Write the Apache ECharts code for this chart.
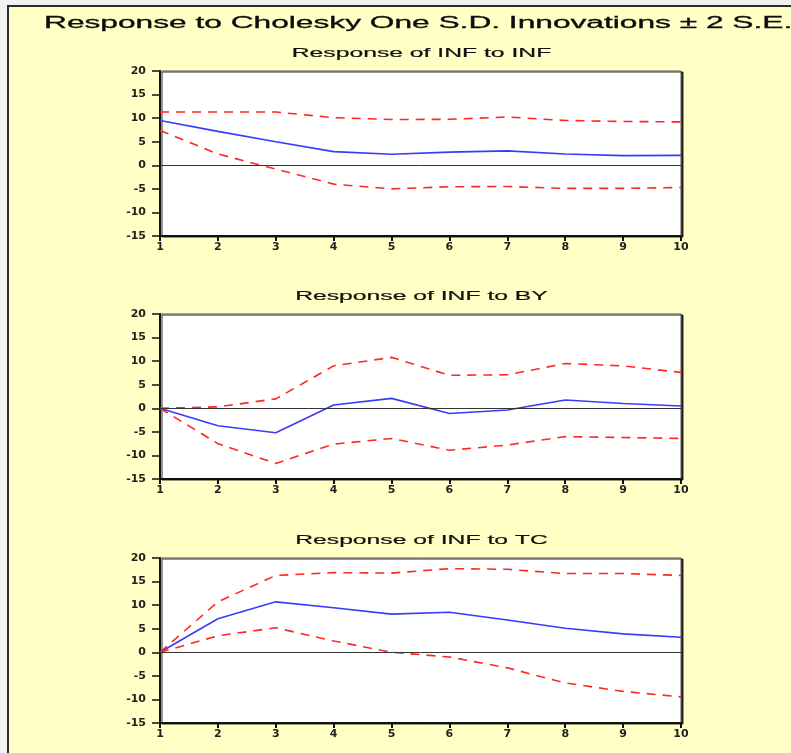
<!DOCTYPE html>
<html>
<head>
<meta charset="utf-8">
<script src="https://cdn.jsdelivr.net/npm/echarts@6/dist/echarts.min.js"></script>
<style>
  html, body { margin: 0; padding: 0; background: #f2f2f2; }
  #irfChart { width: 791px; height: 753px; }
</style>
</head>
<body>
<div id="irfChart"></div>
<script>
// periods after the shock
const periods = [1, 2, 3, 4, 5, 6, 7, 8, 9, 10];
const yTicks = [-15, -10, -5, 0, 5, 10, 15, 20];

// Response of INF to INF
const infToInf = [9.5, 7.2, 5.0, 2.9, 2.35, 2.8, 3.05, 2.4, 2.05, 2.1];
const infToInfUpper = [11.3, 11.3, 11.3, 10.1, 9.7, 9.75, 10.25, 9.5, 9.3, 9.2];
const infToInfLower = [7.4, 2.4, -0.8, -4.0, -5.0, -4.55, -4.5, -4.9, -4.9, -4.7];

// Response of INF to BY
const infToBy = [0, -3.7, -5.2, 0.7, 2.1, -1.1, -0.35, 1.75, 1.0, 0.5];
const infToByUpper = [0, 0.3, 2.0, 9.0, 10.8, 7.0, 7.1, 9.5, 9.0, 7.6];
const infToByLower = [0, -7.5, -11.7, -7.6, -6.4, -8.9, -7.8, -6.0, -6.2, -6.4];

// Response of INF to TC
const infToTc = [0, 7.1, 10.7, 9.45, 8.1, 8.5, 6.85, 5.1, 3.9, 3.2];
const infToTcUpper = [0, 10.7, 16.3, 16.9, 16.8, 17.75, 17.6, 16.7, 16.7, 16.3];
const infToTcLower = [0, 3.5, 5.2, 2.4, 0, -1.0, -3.3, -6.5, -8.3, -9.45];

const mainTitle = 'Response to Cholesky One S.D. Innovations \u00b1 2 S.E.';
const panelTitles = ['Response of INF to INF', 'Response of INF to BY', 'Response of INF to TC'];
const panelData = [
    [infToInf, infToInfUpper, infToInfLower],
    [infToBy, infToByUpper, infToByLower],
    [infToTc, infToTcUpper, infToTcLower]
];

const gridTops = [71, 314, 558];
const plotLeft = 160, plotWidth = 521, plotHeight = 165;

const irfChart = echarts.init(document.getElementById('irfChart'));

function pairs(values) {
    return periods.map((p, i) => [p, values[i]]);
}

function buildGraphics() {
    let items = [{
        // yellow frame behind everything
        type: 'rect', z: -10,
        shape: { x: 8, y: 6, width: 820, height: 780 },
        style: { fill: '#FFFFC6', stroke: '#2b2b2b', lineWidth: 2 }
    }, {
        type: 'text', x: 44, y: 24, scaleX: 1.98,
        style: {
            text: mainTitle, font: '16px "Liberation Sans", Arial, sans-serif',
            fill: '#0c0c0c', textAlign: 'left', textVerticalAlign: 'middle',
            stroke: '#0c0c0c', lineWidth: 0.3
        }
    }];
    panelTitles.forEach((t, i) => {
        items.push({
            type: 'text', x: plotLeft + plotWidth / 2 + 1, y: gridTops[i] - 18, scaleX: 1.9,
            style: {
                text: t, font: '13px "Liberation Sans", Arial, sans-serif',
                fill: '#111', textAlign: 'center', textVerticalAlign: 'middle',
                stroke: '#111', lineWidth: 0.2
            }
        });
    });
    return items;
}

function buildOption() {
    const grid = [], xAxis = [], yAxis = [], series = [];
    gridTops.forEach((top, i) => {
        grid.push({
            left: plotLeft, top: top, width: plotWidth, height: plotHeight,
            show: true, backgroundColor: '#ffffff',
            borderColor: '#555555', borderWidth: 1,
            shadowColor: 'rgba(20,20,20,0.9)', shadowOffsetX: 2, shadowOffsetY: 1
        });
        xAxis.push({
            type: 'value', gridIndex: i, min: 1, max: 10, interval: 1,
            axisLine: { show: true, onZero: false, lineStyle: { color: '#111', width: 2 } },
            axisTick: { show: true, length: 5, lineStyle: { color: '#111', width: 2 } },
            axisLabel: {
                margin: 6, color: '#222', fontSize: 11, fontWeight: 'bold',
                fontFamily: '"DejaVu Sans", sans-serif'
            },
            splitLine: { show: false }
        });
        yAxis.push({
            type: 'value', gridIndex: i,
            min: yTicks[0], max: yTicks[yTicks.length - 1], interval: 5,
            axisLine: { show: true, lineStyle: { color: '#111', width: 2 } },
            axisTick: { show: true, length: 8, lineStyle: { color: '#111', width: 1.5 } },
            axisLabel: {
                margin: 14, color: '#222', fontSize: 11, fontWeight: 'bold',
                fontFamily: '"DejaVu Sans", sans-serif'
            },
            splitLine: { show: false }
        });

        const [mid, up, low] = panelData[i];
        series.push({
            type: 'line', xAxisIndex: i, yAxisIndex: i, data: pairs(mid),
            symbol: 'none', z: 3,
            lineStyle: { color: '#3a3aff', width: 1.6 },
            markLine: {
                silent: true, symbol: 'none', label: { show: false },
                lineStyle: { color: '#333', width: 1, type: 'solid' },
                data: [{ yAxis: 0 }]
            }
        });
        [up, low].forEach(band => {
            series.push({
                type: 'line', xAxisIndex: i, yAxisIndex: i, data: pairs(band),
                symbol: 'none', z: 4,
                lineStyle: { color: '#ff2626', width: 1.6, type: [9, 7] }
            });
        });
    });
    return {
        animation: false,
        backgroundColor: '#f2f2f2',
        graphic: { elements: buildGraphics() },
        grid, xAxis, yAxis, series
    };
}

irfChart.setOption(buildOption());
</script>
</body>
</html>
